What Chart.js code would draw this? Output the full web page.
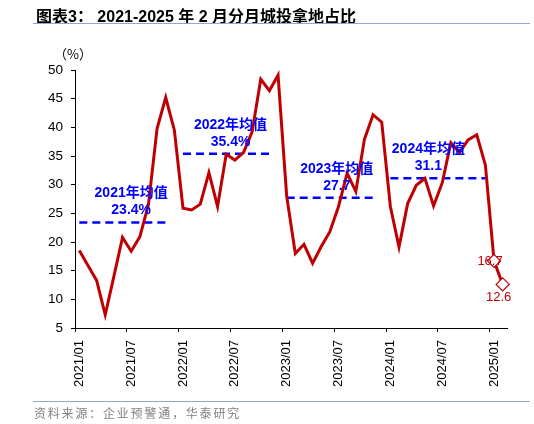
<!DOCTYPE html>
<html>
<head>
<meta charset="utf-8">
<script src="https://cdn.jsdelivr.net/npm/chart.js@4"></script>
<style>
  html, body { margin: 0; padding: 0; background: #fff; }
  #wrap { position: relative; width: 534px; height: 424px; overflow: hidden; }
  #chart { position: absolute; left: 0; top: 0; }
  .title { position: absolute; left: 36px; top: 3px; line-height: 20px; font: bold 16px "Liberation Sans", "Noto Sans CJK SC", sans-serif; color: #000; white-space: nowrap; }
  .rule { position: absolute; left: 33px; width: 497px; height: 0; border-top: 1.5px solid #8DA9C8; }
  .unit { position: absolute; left: 54px; top: 44px; font: 13px "Noto Sans CJK SC", sans-serif; color: #000; }
  .source { position: absolute; left: 34px; top: 404px; font: 12px "Noto Sans CJK SC", sans-serif; color: #808080; letter-spacing: 1.8px; white-space: nowrap; }
</style>
</head>
<body>
<div id="wrap">
  <canvas id="chart" width="534" height="424"></canvas>
  <div class="title">图表3：&nbsp;2021-2025 年 2 月分月城投拿地占比</div>
  <div class="rule" style="top:23px"></div>
  <div class="unit">（%）</div>
  <div class="rule" style="top:401px"></div>
  <div class="source">资料来源：企业预警通，华泰研究</div>
</div>
<script>
// 月份
const months = [
    '2021/01', '2021/02', '2021/03', '2021/04', '2021/05', '2021/06', '2021/07', '2021/08', '2021/09', '2021/10', '2021/11', '2021/12',
    '2022/01', '2022/02', '2022/03', '2022/04', '2022/05', '2022/06', '2022/07', '2022/08', '2022/09', '2022/10', '2022/11', '2022/12',
    '2023/01', '2023/02', '2023/03', '2023/04', '2023/05', '2023/06', '2023/07', '2023/08', '2023/09', '2023/10', '2023/11', '2023/12',
    '2024/01', '2024/02', '2024/03', '2024/04', '2024/05', '2024/06', '2024/07', '2024/08', '2024/09', '2024/10', '2024/11', '2024/12',
    '2025/01', '2025/02'
];

// 城投拿地占比 (%)
const shareValues = [
    18.5, 15.9, 13.3, 7.3, 14.0, 20.8, 18.4, 20.9, 26.5, 39.8, 45.2, 39.5,
    25.9, 25.6, 26.6, 32.1, 26.2, 35.3, 34.3, 35.6, 39.2, 48.4, 46.4, 49.1,
    28.0, 18.0, 19.6, 16.3, 19.2, 21.8, 26.2, 32.0, 28.8, 37.9, 42.2, 40.9,
    26.2, 19.1, 26.7, 29.9, 31.1, 26.3, 30.3, 37.3, 35.6, 37.8, 38.7, 33.4,
    16.7, 12.6
];

// 年均值
const avgYears = ['2021', '2022', '2023', '2024'];
const avgValues = [23.4, 35.4, 27.7, 31.1];
const avgTexts = ['23.4%', '35.4%', '27.7', '31.1'];

// 最后两个点标数值
const endTexts = ['16.7', '12.6'];

const yTicks = [5, 10, 15, 20, 25, 30, 35, 40, 45, 50];

const RED = '#C00000';
const BLUE = '#0000FF';
const FONT = '"Liberation Sans", Arial, sans-serif';

// 均值虚线：每年从1月画到11月左右
const dashEnds = [10, 10, 10, 11];
const avgDatasets = avgValues.map((v, k) => {
    const start = months.indexOf(avgYears[k] + '/01');
    const data = months.map((m, i) => (i >= start && i <= start + dashEnds[k]) ? v : null);
    return {
        data: data,
        borderColor: BLUE,
        borderWidth: 2.5,
        borderDash: [8, 5],
        pointRadius: 0,
        spanGaps: false,
        fill: false
    };
});

const lastIdx = shareValues.length - 1;

// 均值文字的位置（类别索引）
const avgLabelAt = [6, 17.5, 29.8, 40.4];

const labelPlugin = {
    id: 'labels',
    afterDatasetsDraw(chart) {
        const ctx = chart.ctx;
        const xs = chart.scales.x;
        const ys = chart.scales.y;
        ctx.save();
        ctx.textAlign = 'center';
        ctx.textBaseline = 'middle';

        // 年均值文字
        ctx.fillStyle = BLUE;
        ctx.font = 'bold 14px "Liberation Sans", "Noto Sans CJK SC", sans-serif';
        avgValues.forEach((v, k) => {
            const x = xs.left + (avgLabelAt[k] + 0.5) * (xs.width / months.length);
            const y = ys.getPixelForValue(v);
            ctx.fillText(avgYears[k] + '年均值', x, y - 29);
            ctx.fillText(avgTexts[k], x, y - 12);
        });

        // 末端数值
        ctx.fillStyle = RED;
        ctx.font = '13px ' + FONT;
        const i1 = lastIdx - 1;
        ctx.fillText(endTexts[0], xs.getPixelForValue(i1) - 4, ys.getPixelForValue(shareValues[i1]) + 1);
        ctx.fillText(endTexts[1], xs.getPixelForValue(lastIdx) - 4, ys.getPixelForValue(shareValues[lastIdx]) + 13);
        ctx.restore();
    }
};

new Chart(document.getElementById('chart'), {
    type: 'line',
    data: {
        labels: months,
        datasets: [{
            data: shareValues,
            borderColor: RED,
            borderWidth: 3,
            tension: 0,
            pointStyle: 'rectRot',
            pointRadius: c => c.dataIndex >= lastIdx - 1 ? 6.5 : 0,
            pointBackgroundColor: '#fff',
            pointBorderColor: RED,
            pointBorderWidth: 1.2,
            fill: false
        }].concat(avgDatasets)
    },
    options: {
        responsive: false,
        animation: false,
        layout: {
            autoPadding: false,
            padding: { left: 0, right: 27, top: 70, bottom: 0 }
        },
        plugins: {
            legend: { display: false },
            tooltip: { enabled: false }
        },
        scales: {
            x: {
                type: 'category',
                offset: true,
                afterFit(scale) { scale.height = 96; },
                grid: {
                    offset: true,
                    drawOnChartArea: false,
                    drawTicks: true,
                    tickLength: 4,
                    color: c => (c.index !== undefined && c.index % 6 === 0) ? '#000' : 'rgba(0,0,0,0)'
                },
                border: { display: true, color: '#000', width: 1 },
                ticks: {
                    autoSkip: false,
                    maxRotation: 90,
                    minRotation: 90,
                    padding: 8,
                    color: '#000',
                    font: { family: FONT, size: 13 },
                    callback: (val, i) => i % 6 === 0 ? months[i] : ''
                }
            },
            y: {
                min: yTicks[0],
                max: yTicks[yTicks.length - 1],
                afterFit(scale) { scale.width = 75; },
                afterBuildTicks(scale) { scale.ticks = yTicks.map(v => ({ value: v })); },
                grid: {
                    drawOnChartArea: false,
                    drawTicks: true,
                    tickLength: 4,
                    color: '#000'
                },
                border: { display: true, color: '#000', width: 1 },
                ticks: {
                    padding: 8,
                    color: '#000',
                    font: { family: FONT, size: 13.5 }
                }
            }
        }
    },
    plugins: [labelPlugin]
});
</script>
</body>
</html>
